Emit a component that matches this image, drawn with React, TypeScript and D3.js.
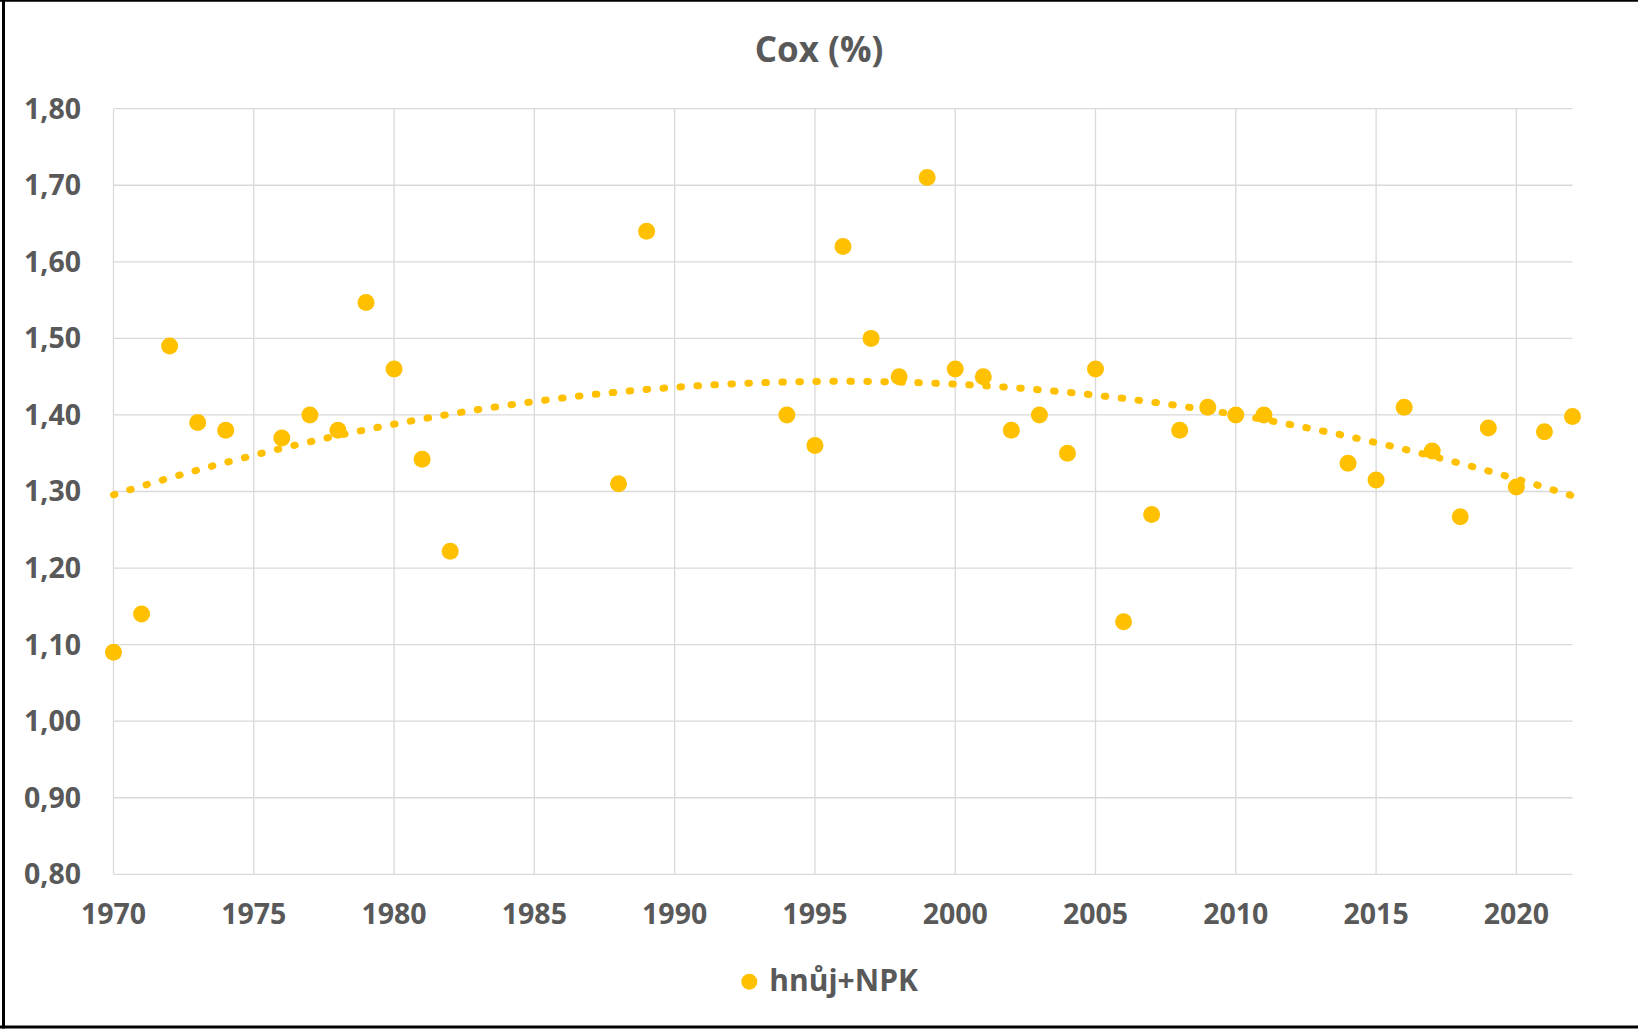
import React from "react";
import * as d3 from "d3";

const years = [1970, 1971, 1972, 1973, 1974, 1976, 1977, 1978, 1979, 1980, 1981, 1982, 1988, 1989, 1994, 1995, 1996, 1997, 1998, 1999, 2000, 2001, 2002, 2003, 2004, 2005, 2006, 2007, 2008, 2009, 2010, 2011, 2014, 2015, 2016, 2017, 2018, 2019, 2020, 2021, 2022];
const cox = [1.09, 1.14, 1.49, 1.39, 1.38, 1.37, 1.40, 1.38, 1.547, 1.46, 1.342, 1.222, 1.31, 1.64, 1.40, 1.36, 1.62, 1.50, 1.45, 1.71, 1.46, 1.45, 1.38, 1.40, 1.35, 1.46, 1.13, 1.27, 1.38, 1.41, 1.40, 1.40, 1.337, 1.315, 1.41, 1.353, 1.267, 1.383, 1.306, 1.378, 1.398];
const xTicks = [1970, 1975, 1980, 1985, 1990, 1995, 2000, 2005, 2010, 2015, 2020];
const yTicks = [0.8, 0.9, 1.0, 1.1, 1.2, 1.3, 1.4, 1.5, 1.6, 1.7, 1.8];
const title = "Cox (%)";
const seriesName = "hnůj+NPK";

const W = 1638;
const H = 1030;
const COLOR = "#FFC000";
const TEXT = "#595959";
const FONT = "'Open Sans', sans-serif";

// quadratic least-squares fit (Excel polynomial trendline, order 2)
function polyFit2(xs: number[], ys: number[]) {
  const x0 = d3.mean(xs) as number;
  const n = xs.length;
  let s1 = 0, s2 = 0, s3 = 0, s4 = 0, t0 = 0, t1 = 0, t2 = 0;
  xs.forEach((xv, i) => {
    const u = xv - x0;
    const y = ys[i];
    s1 += u; s2 += u * u; s3 += u * u * u; s4 += u * u * u * u;
    t0 += y; t1 += u * y; t2 += u * u * y;
  });
  const A = [
    [n, s1, s2, t0],
    [s1, s2, s3, t1],
    [s2, s3, s4, t2],
  ];
  for (let c = 0; c < 3; c++) {
    for (let r = c + 1; r < 3; r++) {
      const f = A[r][c] / A[c][c];
      for (let k = c; k < 4; k++) A[r][k] -= f * A[c][k];
    }
  }
  const b = [0, 0, 0];
  for (let r = 2; r >= 0; r--) {
    let s = A[r][3];
    for (let k = r + 1; k < 3; k++) s -= A[r][k] * b[k];
    b[r] = s / A[r][r];
  }
  return (xv: number) => {
    const u = xv - x0;
    return b[0] + b[1] * u + b[2] * u * u;
  };
}

export default function App() {
  const x = d3.scaleLinear().domain([1970, 2022]).range([113.5, 1572.5]);
  const y = d3.scaleLinear().domain([0.8, 1.8]).range([874.3, 108.7]);
  const fit = polyFit2(years, cox);
  const trendYears = d3.range(1970, 2022.001, 0.25);
  const line = d3
    .line<number>()
    .x((d) => x(d))
    .y((d) => y(fit(d)));
  const fmt = (v: number) => v.toFixed(2).replace(".", ",");

  return (
    <svg
      width={W}
      height={H}
      style={{ position: "fixed", left: 0, top: 0, background: "#fff" }}
      fontFamily={FONT}
    >
      <rect x={0} y={0} width={W} height={H} fill="#fff" />
      {/* frame */}
      <line x1={0} x2={W} y1={0.8} y2={0.8} stroke="#000" strokeWidth={2} />
      <line x1={3.5} x2={3.5} y1={0} y2={1028.5} stroke="#000" strokeWidth={3} />
      <line x1={0} x2={W} y1={1027} y2={1027} stroke="#000" strokeWidth={3} />

      {/* gridlines */}
      {yTicks.map((t) => (
        <line
          key={"gy" + t}
          x1={x(1970)}
          x2={x(2022)}
          y1={y(t)}
          y2={y(t)}
          stroke="#d9d9d9"
          strokeWidth={1.3}
        />
      ))}
      {xTicks.map((t) => (
        <line
          key={"gx" + t}
          x1={x(t)}
          x2={x(t)}
          y1={y(0.8)}
          y2={y(1.8)}
          stroke="#d9d9d9"
          strokeWidth={1.3}
        />
      ))}

      {/* y tick labels */}
      {yTicks.map((t) => (
        <text
          key={"ly" + t}
          x={81}
          y={y(t) + 9.9}
          textAnchor="end"
          fontSize={28.5}
          fontWeight={700}
          fill={TEXT}
        >
          {fmt(t)}
        </text>
      ))}
      {/* x tick labels */}
      {xTicks.map((t) => (
        <text
          key={"lx" + t}
          x={x(t)}
          y={924}
          textAnchor="middle"
          fontSize={28.5}
          fontWeight={700}
          fill={TEXT}
        >
          {t}
        </text>
      ))}

      {/* points */}
      {years.map((yr, i) => (
        <circle key={"p" + yr} cx={x(yr)} cy={y(cox[i])} r={8.5} fill={COLOR} />
      ))}

      {/* trendline */}
      <path
        d={line(trendYears) || ""}
        fill="none"
        stroke={COLOR}
        strokeWidth={7}
        strokeLinecap="round"
        strokeDasharray="1.5 15.5"
      />

      {/* title */}
      <text x={W / 2} y={61.7} textAnchor="middle" fontSize={35} fontWeight={700} fill={TEXT}>
        {title}
      </text>

      {/* legend */}
      <circle cx={749.3} cy={981.7} r={8} fill={COLOR} />
      <text x={769.3} y={991} fontSize={30} fontWeight={700} fill={TEXT}>
        {seriesName}
      </text>
    </svg>
  );
}
